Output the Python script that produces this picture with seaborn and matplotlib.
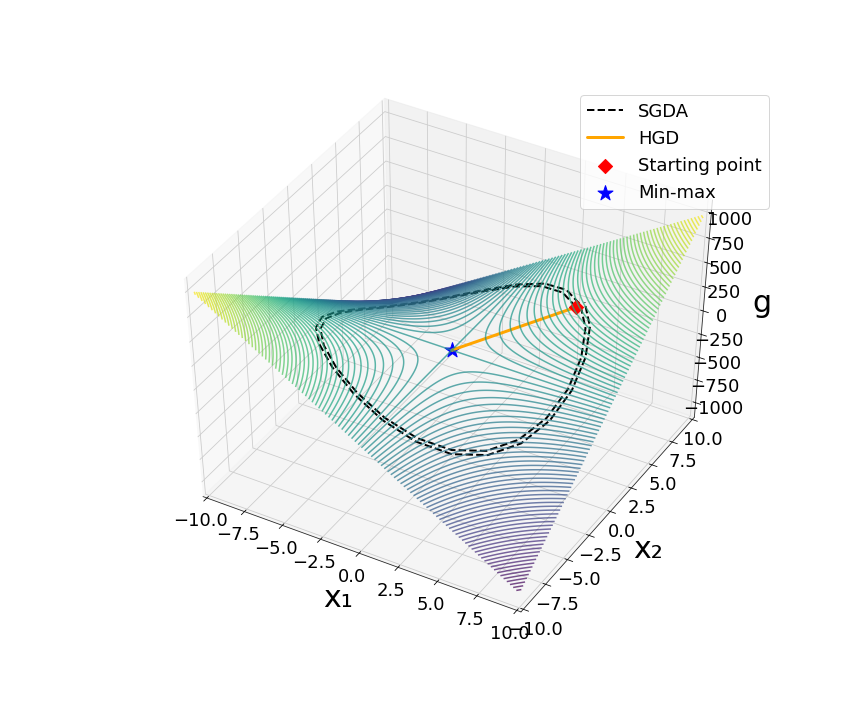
import matplotlib
matplotlib.use('Agg')
import matplotlib.pyplot as plt
import numpy as np
import seaborn as sns

# the surface is the saddle g = 10 * x1 * x2
grid_x1 = np.linspace(-10, 10, 200)
grid_x2 = np.linspace(-10, 10, 200)
n_levels = 100

# values, in (x1, x2)
sgda_x1 = [5.0, 3.54, 1.84, 0, -1.84, -3.56, -5.04, -6.18, -6.91, -7.16, -6.93, -6.22,
           -5.08, -3.6, -1.87, 0, 1.87, 3.62, 5.13, 6.29, 7.02, 7.28, 7.04, 6.32,
           5.17, 3.66, 1.9, 0, -1.9, -3.68, -5.21, -6.39, -7.14, -7.4, -7.16, -6.43,
           -5.25, -3.72, -1.93, 0, 1.93, 3.74, 5.3, 6.5, 7.25, 7.52, 7.27, 6.53, 5.34]
sgda_x2 = [5.0, 6.13, 6.85, 7.1, 6.87, 6.17, 5.04, 3.57, 1.85, 0, -1.86, -3.59,
           -5.08, -6.24, -6.96, -7.22, -6.98, -6.27, -5.13, -3.63, -1.88, 0, 1.89, 3.65,
           5.17, 6.34, 7.08, 7.34, 7.1, 6.37, 5.21, 3.69, 1.91, 0, -1.92, -3.71,
           -5.25, -6.44, -7.2, -7.46, -7.22, -6.48, -5.3, -3.75, -1.94, 0, 1.95, 3.77, 5.34]
hgd_x1 = [5, 0]
hgd_x2 = [5, 0]
start_pt = (5, 5)
minmax_pt = (0, 0)
x_ticks = [-10, -7.5, -5, -2.5, 0, 2.5, 5, 7.5, 10]
z_ticks = [-1000, -750, -500, -250, 0, 250, 500, 750, 1000]

sns.set_style('white', rc={'text.color': 'black', 'axes.labelcolor': 'black',
                           'xtick.color': 'black', 'ytick.color': 'black'})
plt.rcParams['font.family'] = ['DejaVu Sans']


def g(a, b):
    return 10 * np.asarray(a) * np.asarray(b)


fig = plt.figure(figsize=(12, 10), dpi=72)
ax = fig.add_subplot(111, projection='3d')
# let the 3d box fill the whole subplot area, stretched with it
ax.set_box_aspect((1, 1, 1), zoom=0.936)
ax.apply_aspect = lambda position=None: None
ax.set_position([0.125, 0.1183, 0.775, 0.7658])

X, Y = np.meshgrid(grid_x1, grid_x2)
ax.contour3D(X, Y, g(X, Y), n_levels, cmap=sns.color_palette('viridis', as_cmap=True), alpha=0.72)
ax.plot(sgda_x1, sgda_x2, g(sgda_x1, sgda_x2), 'k--', lw=2, label='SGDA')
ax.plot(hgd_x1, hgd_x2, g(hgd_x1, hgd_x2), color='orange', lw=3, marker='.', ms=2, label='HGD')
ax.scatter(start_pt[0], start_pt[1], g(*start_pt), c='r', marker='D', s=100, label='Starting point')
ax.scatter(minmax_pt[0], minmax_pt[1], g(*minmax_pt), c='b', marker='*', s=250, label='Min-max')

ax.set_xlim(-10.26, 10.26)
ax.set_ylim(-10.26, 10.26)
ax.set_zlim(-1164, 1132)
ax.set_xticks(x_ticks)
ax.set_yticks(x_ticks)
ax.set_zticks(z_ticks)
ax.set_xlabel('x\u2081', fontsize=30, labelpad=15)
ax.set_ylabel('x\u2082', fontsize=30, labelpad=18)
ax.set_zlabel('g', fontsize=30, labelpad=17)
ax.tick_params(labelsize=18)
ax.view_init(elev=45, azim=-60)
ax.legend(fontsize=18, loc='upper right', bbox_to_anchor=(0.9, 0.88), bbox_transform=fig.transFigure)
fig.savefig('out.png', dpi=72)
